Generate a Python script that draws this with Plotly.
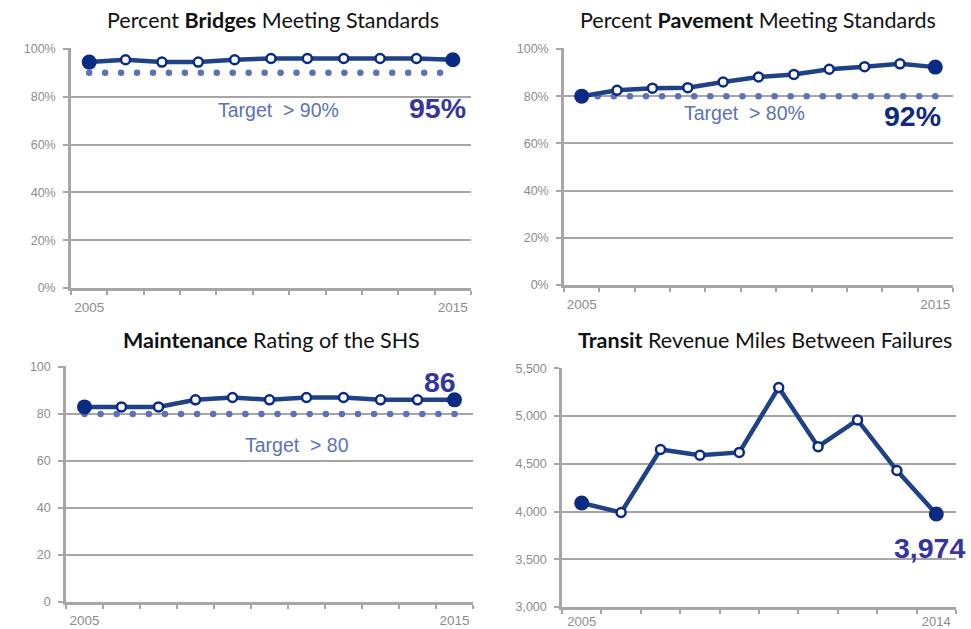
import numpy as np
import plotly.graph_objects as go

# ---------------- data ----------------
years_11 = list(range(2005, 2016))
years_10 = list(range(2005, 2015))

bridges = [94.5, 95.5, 94.5, 94.5, 95.5, 96, 96, 96, 96, 96, 95.5]
bridges_target = 90
pavement = [80, 82.5, 83.4, 83.6, 86, 88.1, 89.2, 91.4, 92.5, 93.7, 92.3]
pavement_target = 80
maintenance = [83, 83, 83, 86, 87, 86, 87, 87, 86, 86, 86]
maintenance_target = 80
transit = [4090, 3990, 4650, 4590, 4620, 5300, 4680, 4960, 4430, 3974]

titles = [
    "Percent <b>Bridges</b> Meeting Standards",
    "Percent <b>Pavement</b> Meeting Standards",
    "<b>Maintenance</b> Rating of the SHS",
    "<b>Transit</b> Revenue Miles Between Failures",
]
target_labels = ["Target\u00a0 > 90%", "Target\u00a0 > 80%", "Target\u00a0 > 80"]
value_labels = ["95%", "92%", "86", "3,974"]

# ---------------- style ----------------
LINE = "#1f4186"
DOT = "#0b2a83"
TGT = "#5b72b8"
LBL = "#35359e"
GRID = "#a6a6a6"
TICK = "#8c8c8c"
W, H = 971, 629

def fx(a, b):
    return [a / W, b / W]

def fy(top, bottom):
    return [1 - bottom / H, 1 - top / H]

panels = [
    dict(x=fx(71, 471), y=fy(48, 288)),
    dict(x=fx(564, 953), y=fy(48, 285)),
    dict(x=fx(66, 473), y=fy(366, 602)),
    dict(x=fx(562, 956), y=fy(368, 607)),
]

fig = go.Figure()

series = [
    (years_11, bridges, bridges_target, (2005, 2014.65, 23)),
    (years_11, pavement, pavement_target, (2005, 2015, 23)),
    (years_11, maintenance, maintenance_target, (2005, 2015, 24)),
    (years_10, transit, None, None),
]

for i, (xs, ys, tgt, span) in enumerate(series):
    n = "" if i == 0 else str(i + 1)
    xa, ya = "x" + n, "y" + n
    if tgt is not None:
        tx = np.linspace(span[0], span[1], span[2])
        fig.add_trace(go.Scatter(
            x=tx, y=[tgt] * len(tx), mode="markers", xaxis=xa, yaxis=ya,
            marker=dict(size=6.5, color=TGT), cliponaxis=False, hoverinfo="skip"))
    fig.add_trace(go.Scatter(
        x=xs, y=ys, mode="lines+markers", xaxis=xa, yaxis=ya,
        line=dict(color=LINE, width=4.5),
        marker=dict(size=9, color="white", line=dict(color=DOT, width=2.5)),
        cliponaxis=False))
    fig.add_trace(go.Scatter(
        x=[xs[0], xs[-1]], y=[ys[0], ys[-1]], mode="markers", xaxis=xa, yaxis=ya,
        marker=dict(size=15, color=DOT), cliponaxis=False))

layout = dict(
    width=W, height=H, margin=dict(l=0, r=0, t=0, b=0, pad=0, autoexpand=False),
    paper_bgcolor="white", plot_bgcolor="white", showlegend=False,
    font=dict(family="Liberation Sans, Arial", color=TICK, size=12.5),
)

yconf = [
    dict(range=[0, 100.4], tickvals=[0, 20, 40, 60, 80, 100],
         ticktext=["0%", "20%", "40%", "60%", "80%", "100%"]),
    dict(range=[0, 100.4], tickvals=[0, 20, 40, 60, 80, 100],
         ticktext=["0%", "20%", "40%", "60%", "80%", "100%"]),
    dict(range=[0, 100.4], tickvals=[0, 20, 40, 60, 80, 100],
         ticktext=["0", "20", "40", "60", "80", "100"]),
    dict(range=[3000, 5504], tickvals=[3000, 3500, 4000, 4500, 5000, 5500],
         ticktext=["3,000", "3,500", "4,000", "4,500", "5,000", "5,500"]),
]
xlabel_standoff = [5, 5, 4, 1]
xlabel_size = [13.5, 13.5, 13.5, 13]

for i, p in enumerate(panels):
    n = "" if i == 0 else str(i + 1)
    xs = series[i][0]
    layout["xaxis" + n] = dict(
        domain=p["x"], anchor="y" + n, range=[xs[0] - 0.5, xs[-1] + 0.5],
        automargin=False,
        tickmode="array", tickvals=[xs[0], xs[-1]], ticktext=[str(xs[0]), str(xs[-1])],
        ticks="", showgrid=False, zeroline=False,
        showline=True, linecolor=GRID, linewidth=2.5,
        tickfont=dict(size=xlabel_size[i], color=TICK),
        ticklabelstandoff=xlabel_standoff[i],
        minor=dict(tickmode="linear", tick0=xs[0] - 0.5, dtick=1, ticks="outside",
                   ticklen=4, tickwidth=2, tickcolor=GRID, showgrid=False),
    )
    layout["yaxis" + n] = dict(
        domain=p["y"], anchor="x" + n, tickmode="array", automargin=False,
        ticks="outside", ticklen=5, tickwidth=2, tickcolor=GRID,
        showgrid=True, gridcolor=GRID, gridwidth=2, zeroline=False,
        showline=True, linecolor=GRID, linewidth=2.5,
        tickfont=dict(size=12.5, color=TICK), ticklabelstandoff=5,
        **yconf[i],
    )

fig.update_layout(**layout)

# titles
title_pos = [(273, 20), (758, 20), (271, 340), (765, 340)]
for t, (px, py) in zip(titles, title_pos):
    fig.add_annotation(text=t, x=px / W, y=1 - py / H, xref="paper", yref="paper",
                       showarrow=False, xanchor="center", yanchor="middle",
                       font=dict(family="Lato, Open Sans", size=21.5, color="#111111"))

# target labels
tpos = [("x", "y", 2010.2, 74.5), ("x2", "y2", 2009.6, 72.9), ("x3", "y3", 2010.75, 67)]
for t, (xr, yr, xv, yv) in zip(target_labels, tpos):
    fig.add_annotation(text=t, x=xv, y=yv, xref=xr, yref=yr, showarrow=False,
                       font=dict(family="Liberation Sans, Arial", size=19.5, color=TGT))

# value labels
vpos = [("x", "y", 2014.58, 75.3, LBL), ("x2", "y2", 2014.36, 71.6, "#0d2a7e"),
        ("x3", "y3", 2014.6, 93.8, LBL), ("x4", "y4", 2013.82, 3618, LBL)]
for t, (xr, yr, xv, yv, c) in zip(value_labels, vpos):
    fig.add_annotation(text="<b>" + t + "</b>", x=xv, y=yv, xref=xr, yref=yr,
                       showarrow=False,
                       font=dict(family="Liberation Sans, Arial", size=28.5, color=c))

fig.write_html("out.html", config={"displayModeBar": False},
               post_script="document.body.style.margin='0';document.body.style.overflow='hidden';")
